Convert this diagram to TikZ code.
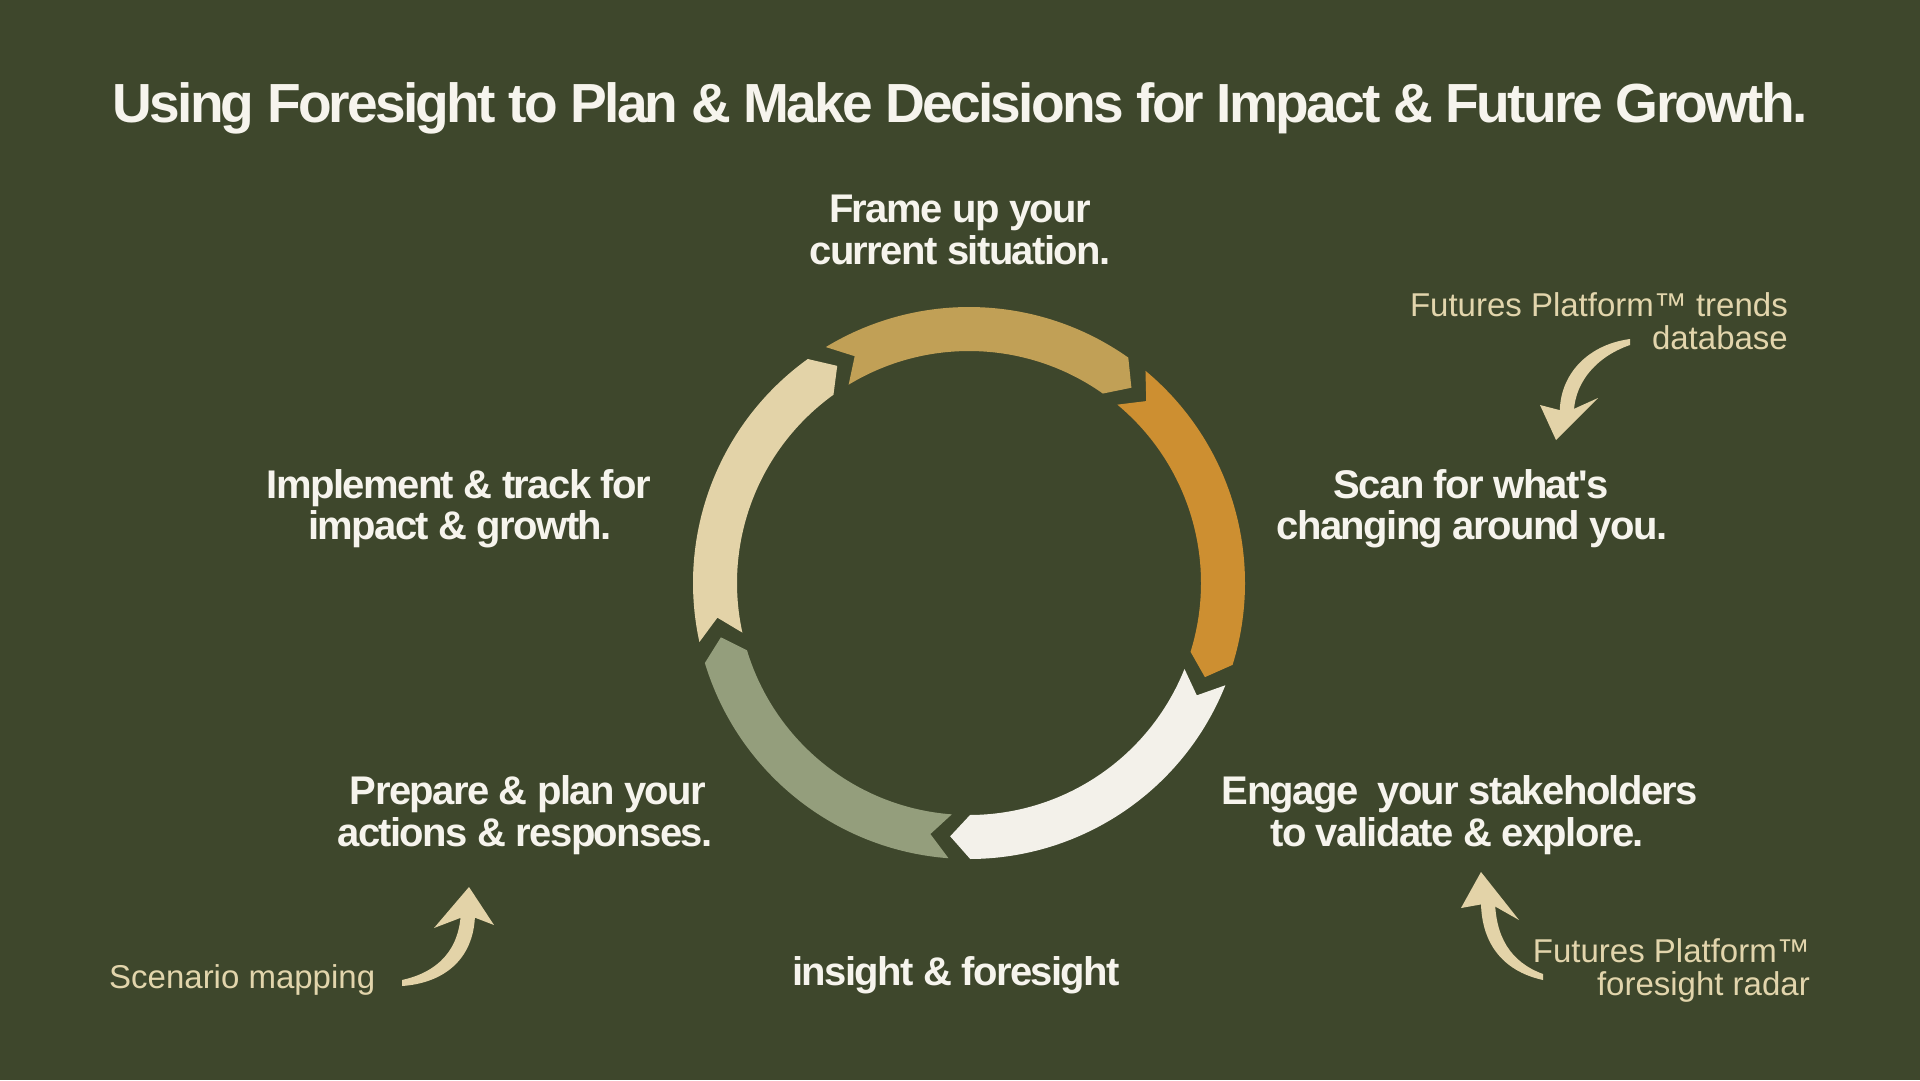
\documentclass[tikz,border=0pt]{standalone}
\usepackage{fontspec}
\setmainfont{Liberation Sans}
\newfontfamily\lblfont{Liberation Sans}[LetterSpace=-4.0]
\newfontfamily\ttlfont{Liberation Sans}[LetterSpace=-5.0]
\definecolor{bgcol}{RGB}{62,71,44}
\definecolor{segGold}{RGB}{193,160,86}
\definecolor{segOrange}{RGB}{205,143,49}
\definecolor{segWhite}{RGB}{243,241,234}
\definecolor{segGreen}{RGB}{148,158,124}
\definecolor{segBeige}{RGB}{227,211,168}
\definecolor{txtWhite}{RGB}{246,244,237}
\definecolor{noteCol}{RGB}{226,213,172}
\newcommand\rgRo{276}
\newcommand\rgRi{232}
\newcommand\rgRm{254}
\newcommand\rgGap{4.5}
\newcommand\rgPt{4.5}
\newcommand\ringseg[3]{%
  \pgfmathsetmacro\rgSa{#1+\rgGap/2}%
  \pgfmathsetmacro\rgEa{#2-\rgGap/2}%
  \pgfmathsetmacro\rgSn{\rgSa+\rgPt}%
  \pgfmathsetmacro\rgEn{\rgEa+\rgPt}%
  \fill[#3] (\rgSa:\rgRo) arc[start angle=\rgSa, end angle=\rgEa, radius=\rgRo]
    -- (\rgEn:\rgRm) -- (\rgEa:\rgRi)
    arc[start angle=\rgEa, end angle=\rgSa, radius=\rgRi]
    -- (\rgSn:\rgRm) -- cycle;}
\begin{document}
\begin{tikzpicture}[x=1pt,y=-1pt,
  boldlbl/.style={font={\lblfont\bfseries\fontsize{40}{40}\selectfont}, text=txtWhite, inner sep=0pt, anchor=base},
  notelbl/.style={font={\fontsize{33}{33}\selectfont}, text=noteCol, inner sep=0pt},
  curlyarrow/.style={fill=segBeige}]
\fill[bgcol] (0,0) rectangle (1920,1080);
\useasboundingbox (0,0) rectangle (1920,1080);

% title
\node[anchor=base, inner sep=0pt, text=txtWhite, font={\ttlfont\bfseries\fontsize{57}{57}\selectfont}] (title) at (960,122)
  {\resizebox{1695pt}{!}{Using Foresight to Plan \& Make Decisions for Impact \& Future Growth.}};

% ring
\begin{scope}[shift={(969,583)}]
  \ringseg{-123.5}{-52.5}{segGold}
  \ringseg{-52.5}{19.5}{segOrange}
  \ringseg{19.5}{92}{segWhite}
  \ringseg{92}{165.4}{segGreen}
  \ringseg{165.4}{236.5}{segBeige}
\end{scope}

% step labels
\node[boldlbl] (frame1) at (960,222) {Frame up your};
\node[boldlbl] (frame2) at (960,264) {current situation.};
\node[boldlbl] (scan1) at (1471,498) {Scan for what's};
\node[boldlbl] (scan2) at (1472,539) {changing around you.};
\node[boldlbl] (eng1) at (1460,804) {Engage\ \ your stakeholders};
\node[boldlbl] (eng2) at (1457,846) {to validate \& explore.};
\node[boldlbl] (prep1) at (528,804) {Prepare \& plan your};
\node[boldlbl] (prep2) at (525,846) {actions \& responses.};
\node[boldlbl] (impl1) at (459,498) {Implement \& track for};
\node[boldlbl] (impl2) at (460,539) {impact \& growth.};
\node[boldlbl] (insight) at (956,985) {insight \& foresight};

% notes
\node[notelbl, anchor=base east] (fp1) at (1788,316) {Futures Platform™ trends};
\node[notelbl, anchor=base east] (fp2) at (1788,349) {database};
\node[notelbl, anchor=base west] (scen) at (109,988) {Scenario mapping};
\node[notelbl, anchor=base east] (fr1) at (1810,962) {Futures Platform™};
\node[notelbl, anchor=base east] (fr2) at (1810,995) {foresight radar};

% curly arrows
\fill[curlyarrow] (1630,339) .. controls (1585,345) and (1557,378) .. (1560,418)
  -- (1574,418) .. controls (1572,385) and (1595,357) .. (1630,345) -- cycle;
\fill[curlyarrow] (1540,405) -- (1556,440) -- (1598,398) -- (1567,412) -- cycle;

\fill[curlyarrow] (402,986) .. controls (445,983) and (476,958) .. (475,910)
  -- (461,910) .. controls (460,950) and (438,972) .. (402,980) -- cycle;
\fill[curlyarrow] (434,928) -- (469,887) -- (494,925) -- (468,915) -- cycle;

\fill[curlyarrow] (1543,980) .. controls (1502,971) and (1480,942) .. (1481,898)
  -- (1495,898) .. controls (1495,936) and (1510,962) .. (1543,974) -- cycle;
\fill[curlyarrow] (1461,908) -- (1481,872) -- (1519,920) -- (1489,903) -- cycle;
\end{tikzpicture}
\end{document}
